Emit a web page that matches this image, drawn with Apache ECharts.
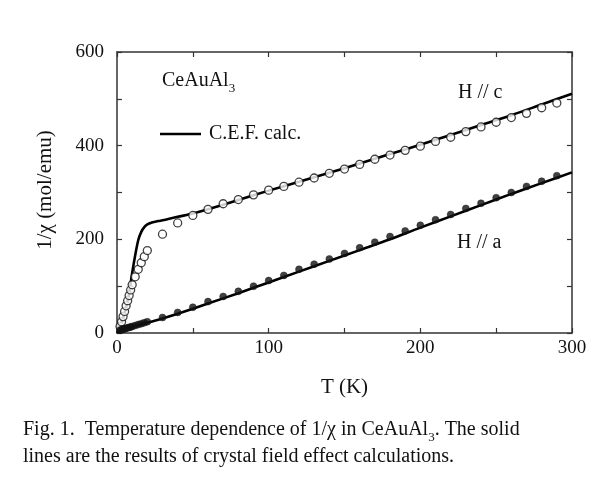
<!DOCTYPE html>
<html>
<head>
<meta charset="utf-8">
<script src="https://cdn.jsdelivr.net/npm/echarts@6/dist/echarts.min.js"></script>
<style>
html,body{margin:0;padding:0;background:#fff;}
#chart{width:601px;height:483px;}
</style>
</head>
<body>
<div id="chart"></div>
<script>
// ---- data ----
var xTicks = [0, 100, 200, 300];
var yTicks = [0, 200, 400, 600];

// H // c measured (open circles)
var tempC = [2,3,4,5,6,7,8,9,10,12,14,16,18,20,30,40,50,60,70,80,90,100,110,120,130,140,150,160,170,180,190,200,210,220,230,240,250,260,270,280,290];
var invChiC = [14,24,35,46,58,69,80,92,103,120,136,150,163,176,211,235,251,264,276,285,295,305,313,322,331,341,350,360,371,380,390,399,409,418,430,440,450,460,469,481,491];

// H // a measured (filled circles)
var tempA = [2,3,4,5,6,7,8,9,10,12,14,16,18,20,30,40,50,60,70,80,90,100,110,120,130,140,150,160,170,180,190,200,210,220,230,240,250,260,270,280,290];
var invChiA = [6,7,8,9,10,11,12,13,14,16,18,20,22,24,33,44,55,67,78,89,100,112,123,136,147,158,170,182,194,206,218,230,242,253,266,277,289,300,313,324,336];

// C.E.F. calculation, H // c
var cefTempC = [0,2,4,6,8,10,12,14,16,18,20,23,27,32,40,50,60,80,100,120,140,160,180,200,220,240,260,280,300];
var cefC = [8,16,32,55,85,128,166,198,216,226,232,236,239,242,248,255,264,284,304,323,342,362,382,402,423,444,465,488,511];

// C.E.F. calculation, H // a
var cefTempA = [0,1,2,5,10,20,30,40,60,80,100,120,140,160,180,200,220,240,260,280,300];
var cefA = [0,4,6,9,13,22,31,41,63,85,108,131,154,177,200,225,249,273,297,320,343];

function pairs(xs, ys){ var o=[]; for(var i=0;i<xs.length;i++){o.push([xs[i], ys[i]]);} return o; }

var SERIF = "'Liberation Serif','Times New Roman',serif";
var INK = '#111';
var AX = '#333';

var chart = echarts.init(document.getElementById('chart'), null, {renderer:'canvas'});

var baseAxis = {
  axisLine:{show:true, onZero:false, lineStyle:{color:AX, width:1.5}},
  axisTick:{show:true, inside:true, length:5, lineStyle:{color:AX, width:1.2}},
  minorTick:{show:true, splitNumber:2, length:5, lineStyle:{color:AX, width:1.2}},
  splitLine:{show:false},
  minorSplitLine:{show:false}
};

chart.setOption({
  animation:false,
  backgroundColor:'#ffffff',
  grid:{left:117, right:29, top:52, bottom:150, containLabel:false},
  xAxis:[
    Object.assign({}, baseAxis, {
      type:'value', position:'bottom', min:xTicks[0], max:xTicks[xTicks.length-1], interval:100,
      axisLabel:{show:true, margin:6, color:INK, fontFamily:SERIF, fontSize:19},
      name:'T (K)', nameLocation:'middle', nameGap:44,
      nameTextStyle:{color:INK, fontFamily:SERIF, fontSize:21}
    }),
    Object.assign({}, baseAxis, {
      type:'value', position:'top', min:xTicks[0], max:xTicks[xTicks.length-1], interval:100,
      axisLabel:{show:false}
    })
  ],
  yAxis:[
    Object.assign({}, baseAxis, {
      type:'value', position:'left', min:yTicks[0], max:yTicks[yTicks.length-1], interval:200,
      axisLabel:{show:true, margin:13, color:INK, fontFamily:SERIF, fontSize:19}
    }),
    Object.assign({}, baseAxis, {
      type:'value', position:'right', min:yTicks[0], max:yTicks[yTicks.length-1], interval:200,
      axisLabel:{show:false}
    })
  ],
  series:[
    {type:'line', name:'C.E.F. c', data:pairs(cefTempC, cefC), smooth:0.3, showSymbol:false, symbol:'none',
     lineStyle:{color:'#000', width:2.6}, z:2},
    {type:'line', name:'C.E.F. a', data:pairs(cefTempA, cefA), smooth:0.3, showSymbol:false, symbol:'none',
     lineStyle:{color:'#000', width:2.6}, z:2},
    {type:'scatter', name:'H // c', data:pairs(tempC, invChiC), symbol:'circle', symbolSize:8,
     itemStyle:{color:'#fff', borderColor:'#111', borderWidth:1.3}, z:3},
    {type:'scatter', name:'H // a', data:pairs(tempA, invChiA), symbol:'circle', symbolSize:7,
     itemStyle:{color:'#111', borderColor:'#111', borderWidth:0.5}, z:3}
  ],
  graphic:[
    {type:'text', x:45, y:190, rotation:Math.PI/2,
     style:{text:'1/χ (mol/emu)', fill:INK, font:'21px '+SERIF, textAlign:'center', textVerticalAlign:'middle'}},
    {type:'text', x:162, y:83,
     style:{text:'{m|CeAuAl}{s|3}', textVerticalAlign:'middle', fill:INK,
       rich:{m:{fontFamily:SERIF, fontSize:20, fill:INK, verticalAlign:'bottom', padding:[0,0,4,0]},
             s:{fontFamily:SERIF, fontSize:13, fill:INK, verticalAlign:'bottom'}}}},
    {type:'line', shape:{x1:160, y1:134, x2:201, y2:134}, style:{stroke:'#000', lineWidth:2.6}},
    {type:'text', x:209, y:134,
     style:{text:'C.E.F. calc.', fill:INK, font:'20px '+SERIF, textVerticalAlign:'middle'}},
    {type:'text', x:458, y:93,
     style:{text:'H // c', fill:INK, font:'20px '+SERIF, textVerticalAlign:'middle'}},
    {type:'text', x:457, y:243,
     style:{text:'H // a', fill:INK, font:'20px '+SERIF, textVerticalAlign:'middle'}},
    {type:'text', x:23, y:432,
     style:{text:'{m|Fig. 1.  Temperature dependence of 1/χ in CeAuAl}{s|3}{m|. The solid}', textVerticalAlign:'middle', fill:INK,
       rich:{m:{fontFamily:SERIF, fontSize:20, fill:INK, verticalAlign:'bottom', padding:[0,0,4,0]},
             s:{fontFamily:SERIF, fontSize:13, fill:INK, verticalAlign:'bottom'}}}},
    {type:'text', x:23, y:457,
     style:{text:'lines are the results of crystal field effect calculations.', fill:INK, font:'20px '+SERIF, textVerticalAlign:'middle'}}
  ]
});
</script>
</body>
</html>
